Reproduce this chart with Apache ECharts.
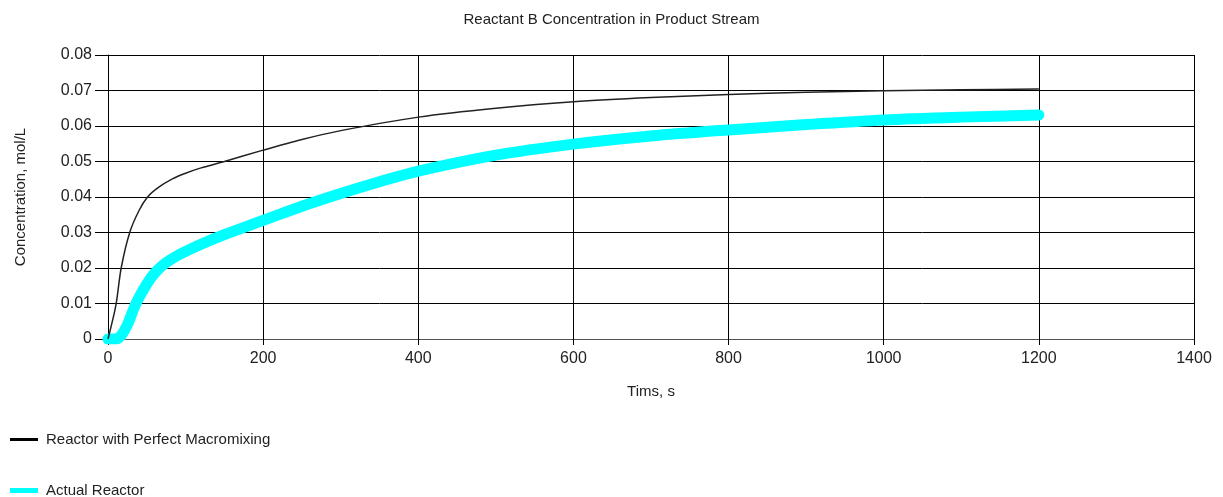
<!DOCTYPE html>
<html>
<head>
<meta charset="utf-8">
<script src="https://cdn.jsdelivr.net/npm/echarts@6/dist/echarts.min.js"></script>
<style>
html,body{margin:0;padding:0;background:#fff;}
#chart{width:1223px;height:497px;}
</style>
</head>
<body>
<div id="chart"></div>
<script>
const titleText = "Reactant B Concentration in Product Stream";
const seriesNames = ["Reactor with Perfect Macromixing", "Actual Reactor"];
const perfectTimes = [0,10,17,28,40,51,65,83,100,120,150,200,250,300,400,500,600,700,800,900,1000,1100,1200];
const perfectMix = [0,0.0093,0.02,0.03,0.0362,0.040,0.0427,0.0451,0.0467,0.0482,0.050,0.0532,0.0562,0.0587,0.0625,0.065,0.0668,0.068,0.0689,0.0695,0.0699,0.0702,0.0704];
const actualTimes = [0,10,17,25,36,50,62,75,92,120,150,200,250,300,350,400,500,600,700,800,900,1000,1100,1200];
const actual = [0,0,0.001,0.004,0.01,0.0155,0.019,0.0215,0.0238,0.0267,0.0294,0.0334,0.0374,0.041,0.0443,0.0473,0.0518,0.0549,0.0572,0.0589,0.0604,0.0617,0.0625,0.0631];

const font = "'Liberation Sans', Arial, sans-serif";
const legendText = {fontFamily:font,fontSize:15,color:'#222',padding:[0,0,0,3]};
const chart = echarts.init(document.getElementById('chart'), null, {renderer:'canvas'});
chart.setOption({
  animation:false,
  backgroundColor:'#fff',
  title:{text:titleText,left:'center',top:7,textStyle:{fontFamily:font,fontSize:15,fontWeight:'normal',color:'#222'}},
  grid:{left:108,right:29,top:55,bottom:158},
  legend:[
    {left:5,top:427,padding:5,itemWidth:28,itemHeight:3,icon:'rect',textStyle:legendText,
      data:[{name:seriesNames[0],itemStyle:{color:'#000'}}]},
    {left:5,top:478,padding:5,itemWidth:28,itemHeight:5,icon:'rect',textStyle:legendText,
      data:[{name:seriesNames[1],itemStyle:{color:'#00ffff'}}]}
  ],
  xAxis:{type:'value',min:0,max:1400,interval:200,name:'Tims, s',nameLocation:'middle',nameGap:45,
    nameTextStyle:{fontFamily:font,fontSize:15,color:'#222'},
    axisLine:{show:true,lineStyle:{color:'#555',width:1}},
    axisTick:{show:true,length:6,lineStyle:{color:'#000'}},
    axisLabel:{fontFamily:font,fontSize:16,color:'#222',margin:12,formatter:v=>String(v)},
    splitLine:{show:true,lineStyle:{color:'#000',width:1}}},
  yAxis:{type:'value',min:0,max:0.08,interval:0.01,name:'Concentration, mol/L',nameLocation:'middle',nameGap:80,
    nameTextStyle:{fontFamily:font,fontSize:15,color:'#222'},
    axisLine:{show:true,lineStyle:{color:'#000',width:1}},
    axisTick:{show:true,length:13,lineStyle:{color:'#000'}},
    axisLabel:{fontFamily:font,fontSize:16,color:'#222',margin:16,formatter:v=>v===0?'0':v.toFixed(2)},
    splitLine:{show:true,lineStyle:{color:'#000',width:1}}},
  series:[
    {name:seriesNames[1],type:'line',data:actualTimes.map((t,i)=>[t,actual[i]]),showSymbol:false,smooth:0.3,
      lineStyle:{color:'#00ffff',width:11,cap:'round',join:'round'},itemStyle:{color:'#00ffff'},z:2},
    {name:seriesNames[0],type:'line',data:perfectTimes.map((t,i)=>[t,perfectMix[i]]),showSymbol:false,smooth:0.3,
      lineStyle:{color:'#222',width:1.5},itemStyle:{color:'#000'},z:3}
  ]
});
</script>
</body>
</html>
